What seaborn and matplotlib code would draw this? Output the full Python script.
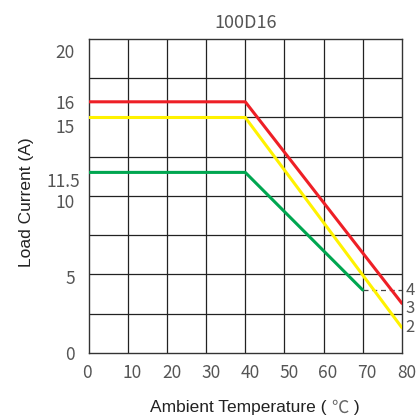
import matplotlib
matplotlib.use("Agg")
import matplotlib.pyplot as plt
from matplotlib.offsetbox import TextArea, HPacker, AnchoredOffsetbox
from matplotlib.transforms import ScaledTranslation
import numpy as np
import pandas as pd
import seaborn as sns

# Derating curves
temp_red = [0, 40, 80]
current_red = [16, 16, 3.15]
temp_yellow = [0, 40, 80]
current_yellow = [15, 15, 1.6]
temp_green = [0, 40, 70]
current_green = [11.5, 11.5, 4]

x_ticks = [0, 10, 20, 30, 40, 50, 60, 70, 80]
y_ticks = [0, 5, 10, 11.5, 15, 16, 20]
y_ticklabels = ["0", "5", "10", "11.5", "15", "16", "20"]
end_labels = ["4", "3", "2"]
end_label_y = [4.0, 2.8, 1.6]

df = pd.concat([
    pd.DataFrame({"temp": temp_red, "current": current_red, "curve": "red"}),
    pd.DataFrame({"temp": temp_yellow, "current": current_yellow, "curve": "yellow"}),
    pd.DataFrame({"temp": temp_green, "current": current_green, "curve": "green"}),
])

sns.set_style("white")
plt.rcParams['font.family'] = ['Noto Sans CJK SC', 'DejaVu Sans']
plt.rcParams['font.weight'] = 'light'

fig = plt.figure(figsize=(4.2, 4.2), dpi=100)
ax = fig.add_axes([0.211, 0.160, 0.746, 0.747])

# grid: every 10 on x, every 2.5 on y
for gx in np.arange(10, 80, 10):
    ax.axvline(gx, color="#222222", lw=0.9, zorder=1)
for gy in np.arange(2.5, 20, 2.5):
    ax.axhline(gy, color="#222222", lw=0.9, zorder=1)

sns.lineplot(data=df, x="temp", y="current", hue="curve",
             palette={"red": "#ee1f26", "yellow": "#fff200", "green": "#00a650"},
             lw=2.2, legend=False, ax=ax, zorder=3, sort=False)

ax.plot([temp_green[-1], 80], [current_green[-1], current_green[-1]],
        color="#444444", lw=0.9, ls=(0, (4, 3)), zorder=2)

for lab, yy in zip(end_labels, end_label_y):
    ax.text(80.9, yy, lab, ha="left", va="center", fontsize=12,
            color="#555555", clip_on=False)

ax.set_xlim(0, 80)
ax.set_ylim(0, 20)
ax.set_xticks(x_ticks)
ax.set_yticks(y_ticks)
ax.set_yticklabels(y_ticklabels)
ax.tick_params(length=0, labelsize=12.5, labelcolor="#555555")
ax.tick_params(axis="x", pad=8)
ax.tick_params(axis="y", pad=10)

# the reference sets its tick labels a little off their ticks (pixels)
x_shift = [-1.5, 4.5, 4.5, 4.5, 4.5, 4.5, 4.5, 4.5, 4.5]
y_shift = [(0, 0), (0, -3), (0, -5.5), (5, -8), (0, -9), (0, -0.5), (0, -12)]
for lab, dx in zip(ax.get_xticklabels(), x_shift):
    lab.set_transform(lab.get_transform() + ScaledTranslation(dx / 100, 0, fig.dpi_scale_trans))
for lab, (dx, dy) in zip(ax.get_yticklabels(), y_shift):
    lab.set_transform(lab.get_transform() + ScaledTranslation(dx / 100, dy / 100, fig.dpi_scale_trans))

for s in ax.spines.values():
    s.set_color("#333333")
    s.set_linewidth(1.0)

ax.set_title("100D16", fontsize=13, color="#555555", pad=8)
ax.set_xlabel("")

# x label: latin part in Liberation Sans, the degree sign in the CJK font
latin = dict(fontsize=12.5, color="#222222", family="Liberation Sans", weight="normal")
cjk = dict(fontsize=12.5, color="#666666", family="Noto Sans CJK SC")
parts = HPacker(children=[TextArea("Ambient Temperature ( ", textprops=latin),
                          TextArea("℃", textprops=cjk),
                          TextArea(" )", textprops=latin)],
                align="baseline", pad=0, sep=0)
box = AnchoredOffsetbox(loc="center", child=parts, frameon=False,
                        bbox_to_anchor=(0.607, 0.03), bbox_transform=fig.transFigure,
                        borderpad=0, pad=0)
fig.add_artist(box)

ax.set_ylabel("Load Current (A)", fontsize=12.5, color="#222222",
              family=["Liberation Sans", "DejaVu Sans"], weight="normal")
ax.yaxis.set_label_coords(-0.175, 0.48)

fig.savefig("out.png", dpi=100)
